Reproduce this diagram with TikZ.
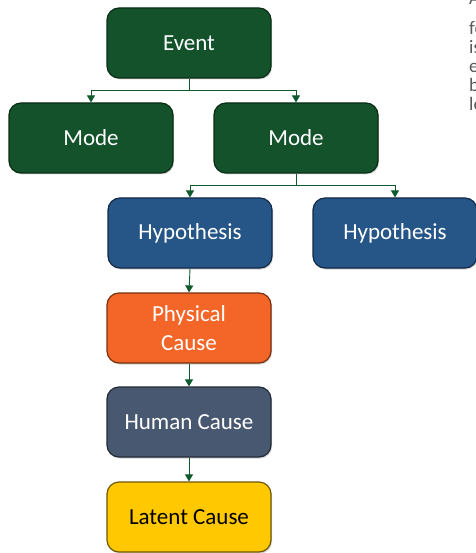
\documentclass[tikz,border=0pt]{standalone}
\usepackage{fontspec}
\setmainfont{Carlito}
\usetikzlibrary{arrows.meta,shadows,calc}
\definecolor{evgreen}{RGB}{20,82,44}
\definecolor{evgreenD}{RGB}{10,45,22}
\definecolor{hypblue}{RGB}{38,86,136}
\definecolor{hypblueD}{RGB}{18,42,70}
\definecolor{physorange}{RGB}{244,102,40}
\definecolor{physorangeD}{RGB}{120,48,15}
\definecolor{humslate}{RGB}{72,88,112}
\definecolor{humslateD}{RGB}{35,42,55}
\definecolor{latyellow}{RGB}{255,200,0}
\definecolor{latyellowD}{RGB}{110,88,0}
\definecolor{linkgreen}{RGB}{14,90,45}
\definecolor{notegrey}{RGB}{90,90,90}
\tikzset{
  box/.style={rounded corners=12pt, minimum width=164pt, minimum height=70pt,
    inner sep=0pt, align=center, line width=1.2pt, font=\fontsize{23}{29}\selectfont,
    text=white, drop shadow={shadow xshift=1pt, shadow yshift=-1.5pt, opacity=0.35}},
  evbox/.style={box, fill=evgreen, draw=evgreenD},
  hypbox/.style={box, fill=hypblue, draw=hypblueD},
  physbox/.style={box, fill=physorange, draw=physorangeD},
  humbox/.style={box, fill=humslate, draw=humslateD},
  latbox/.style={box, fill=latyellow, draw=latyellowD, text=black},
  link/.style={draw=linkgreen, line width=0.9pt},
  arr/.style={link, -{Triangle[width=8pt,length=7pt]}},
  noteline/.style={anchor=base west, inner sep=0pt, text=notegrey,
    font=\fontsize{19}{19}\selectfont},
}
\begin{document}
\begin{tikzpicture}[x=1pt,y=-1pt]
\useasboundingbox (0,0) rectangle (475,553);

% tree of boxes
\node[evbox]   (ev)   at (189,43)  {Event};
\node[evbox]   (m1)   at (91,138)  {Mode};
\node[evbox]   (m2)   at (296,138) {Mode};
\node[hypbox]  (h1)   at (190,233) {Hypothesis};
\node[hypbox]  (h2)   at (395,233) {Hypothesis};
\node[physbox] (phys) at (189,328) {Physical\\Cause};
\node[humbox]  (hum)  at (189,422) {Human Cause};
\node[latbox]  (lat)  at (189,517) {Latent Cause};

% branching connectors
\coordinate (bus1) at ($(ev.south)+(0,12)$);
\draw[link] (ev.south) -- (bus1);
\draw[arr] (bus1) -| (m1.north);
\draw[arr] (bus1) -| (m2.north);

\coordinate (bus2) at ($(m2.south)+(0,12)$);
\draw[link] (m2.south) -- (bus2);
\draw[arr] (bus2) -| (h1.north);
\draw[arr] (bus2) -| (h2.north);

% straight chain
\draw[arr] (h1.south) -- (phys.north);
\draw[arr] (phys.south) -- (hum.north);
\draw[arr] (hum.south) -- (lat.north);

% side note running off the right edge
\node[noteline] (n1) at (469,5)   {A};
\node[noteline] (n2) at (469,35)  {fo};
\node[noteline] (n3) at (469,54)  {is};
\node[noteline] (n4) at (469,73)  {e};
\node[noteline] (n5) at (469,92)  {b};
\node[noteline] (n6) at (469,111) {le};
\end{tikzpicture}
\end{document}
